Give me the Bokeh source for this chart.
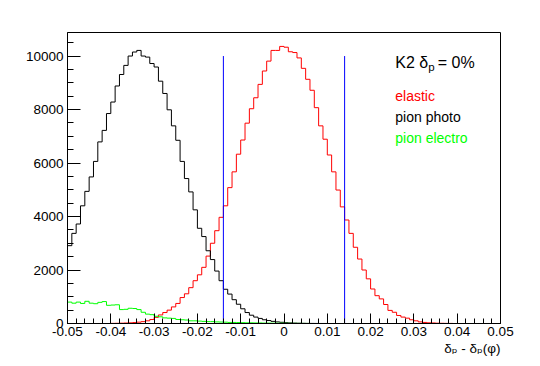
from bokeh.plotting import figure
from bokeh.models import Range1d, FixedTicker, Label, Title
from bokeh.embed import file_html
from bokeh.resources import INLINE

# ---------------- data ----------------
bin_lo, bin_hi, n_bins = -0.05, 0.05, 100

elastic = [0, 0, 0, 0, 0, 0, 0, 0, 0, 0,
           5, 8, 12, 18, 25, 35, 50, 70, 100, 150,
           230, 320, 410, 500, 620, 750, 970, 1110, 1340, 1600,
           1820, 2100, 2520, 3000, 3470, 3970, 4400, 5080, 5670, 6330,
           6860, 7490, 8030, 8440, 8940, 9440, 9810, 10210, 10210, 10360,
           10330, 10160, 10130, 9930, 9540, 9130, 8720, 8070, 7390, 6890,
           6300, 5670, 4990, 4360, 3870, 3370, 2850, 2410, 2000, 1670,
           1290, 1040, 920, 710, 490, 420, 300, 240, 200, 140,
           100, 60, 40, 25, 20, 12, 8, 5, 3, 0,
           0, 0, 0, 0, 0, 0, 0, 0, 0, 0]

pion_photo = [2910, 3370, 3720, 4400, 4940, 5480, 6060, 6790, 7220, 7850,
              8280, 8880, 9310, 9650, 10000, 10150, 10210, 10000, 9960, 9720,
              9590, 9060, 8600, 7990, 7390, 6850, 6060, 5420, 4920, 4250,
              3560, 3250, 2720, 2390, 1960, 1600, 1280, 1100, 890, 720,
              550, 410, 310, 240, 190, 140, 110, 80, 60, 45,
              30, 22, 15, 10, 6, 4, 3, 2, 1, 1,
              0, 0, 0, 0, 0, 0, 0, 0, 0, 0,
              0, 0, 0, 0, 0, 0, 0, 0, 0, 0,
              0, 0, 0, 0, 0, 0, 0, 0, 0, 0,
              0, 0, 0, 0, 0, 0, 0, 0, 0, 0]

pion_electro = [800, 760, 800, 750, 830, 760, 740, 790, 820, 680,
                690, 700, 520, 530, 570, 560, 520, 420, 350, 330,
                270, 250, 210, 200, 190, 150, 140, 130, 100, 100,
                90, 80, 70, 70, 60, 55, 50, 40, 40, 35,
                30, 25, 25, 20, 20, 15, 15, 12, 10, 10,
                8, 6, 5, 4, 3, 2, 0, 0, 0, 0,
                0, 0, 0, 0, 0, 0, 0, 0, 0, 0,
                0, 0, 0, 0, 0, 0, 0, 0, 0, 0,
                0, 0, 0, 0, 0, 0, 0, 0, 0, 0,
                0, 0, 0, 0, 0, 0, 0, 0, 0, 0]

cut_values = [-0.014, 0.014]
cut_height = 10000

x_ticks = [-0.05, -0.04, -0.03, -0.02, -0.01, 0.0, 0.01, 0.02, 0.03, 0.04, 0.05]
x_tick_labels = ["-0.05", "-0.04", "-0.03", "-0.02", "-0.01", "0",
                 "0.01", "0.02", "0.03", "0.04", "0.05"]
y_ticks = [0, 2000, 4000, 6000, 8000, 10000]
y_tick_labels = ["0", "2000", "4000", "6000", "8000", "10000"]

x_title = "δₚ - δₚ(φ)"
series_names = ["elastic", "pion photo", "pion electro"]
series_colors = ["#ff0000", "#000000", "#00ff00"]

# ---------------- figure ----------------
FONT = "Liberation Sans"

bw = (bin_hi - bin_lo) / n_bins
edges = [bin_lo + bw * i for i in range(n_bins + 1)]

p = figure(width=540, height=366, output_backend="svg", toolbar_location=None,
           x_range=Range1d(bin_lo, bin_hi), y_range=Range1d(0, 10880),
           min_border_left=67, min_border_right=40,
           min_border_top=32, min_border_bottom=43)
p.xgrid.visible = False
p.ygrid.visible = False
p.outline_line_color = "black"
p.outline_line_width = 1
p.outline_line_alpha = 1
p.background_fill_color = "white"
p.border_fill_color = "white"

for counts, color in zip([elastic, pion_photo, pion_electro], series_colors):
    p.step(edges, counts + [counts[-1]], mode="after", line_color=color, line_width=1)

p.segment(x0=cut_values, y0=[0] * len(cut_values), x1=cut_values,
          y1=[cut_height] * len(cut_values), line_color="#0000ff", line_width=1)

# axes
x_minor = [bin_lo + 0.002 * i for i in range(51)]
y_minor = [500 * i for i in range(22)]
p.xaxis.ticker = FixedTicker(ticks=x_ticks, minor_ticks=x_minor)
p.yaxis.ticker = FixedTicker(ticks=y_ticks, minor_ticks=y_minor)
p.xaxis.major_label_overrides = {t: l for t, l in zip(x_ticks, x_tick_labels)}
p.yaxis.major_label_overrides = {t: l for t, l in zip(y_ticks, y_tick_labels)}
for ax in (p.xaxis, p.yaxis):
    ax.axis_line_color = "black"
    ax.major_tick_line_color = "black"
    ax.minor_tick_line_color = "black"
    ax.major_tick_out = 0
    ax.minor_tick_out = 0
    ax.major_label_text_font = FONT
    ax.major_label_text_font_size = "13.5px"
    ax.major_label_text_color = "black"
p.xaxis.major_tick_in = 10
p.xaxis.minor_tick_in = 5
p.yaxis.major_tick_in = 13
p.yaxis.minor_tick_in = 6
p.xaxis.major_label_standoff = 3
p.yaxis.major_label_standoff = 4

# x-axis title, right aligned under the axis
p.add_layout(Title(text=x_title, align="right", text_font="Liberation Sans, DejaVu Sans",
                   text_font_size="13.5px", text_font_style="normal",
                   text_color="black", standoff=0, offset=0), "below")


def add_label(x, y, text, size, color="black", dx=0):
    p.add_layout(Label(x=x, y=y, x_offset=dx, text=text, text_font=FONT,
                       text_font_size=size, text_color=color,
                       text_align="left", text_baseline="alphabetic"))


# title box text "K2 δp = 0%"
tx, ty, ty_sub = 0.0257, 9767, 9590
add_label(tx, ty, "K2", "16px")
add_label(tx, ty, "δ", "16px", dx=24)
add_label(tx, ty_sub, "p", "11.5px", dx=33)
add_label(tx, ty, "= 0%", "16px", dx=42.5)

# legend texts
for name, color, yy in zip(series_names, series_colors, [8509, 7725, 6942]):
    add_label(tx, yy, name, "14px", color=color)

open("out.html", "w").write(file_html(p, INLINE))
